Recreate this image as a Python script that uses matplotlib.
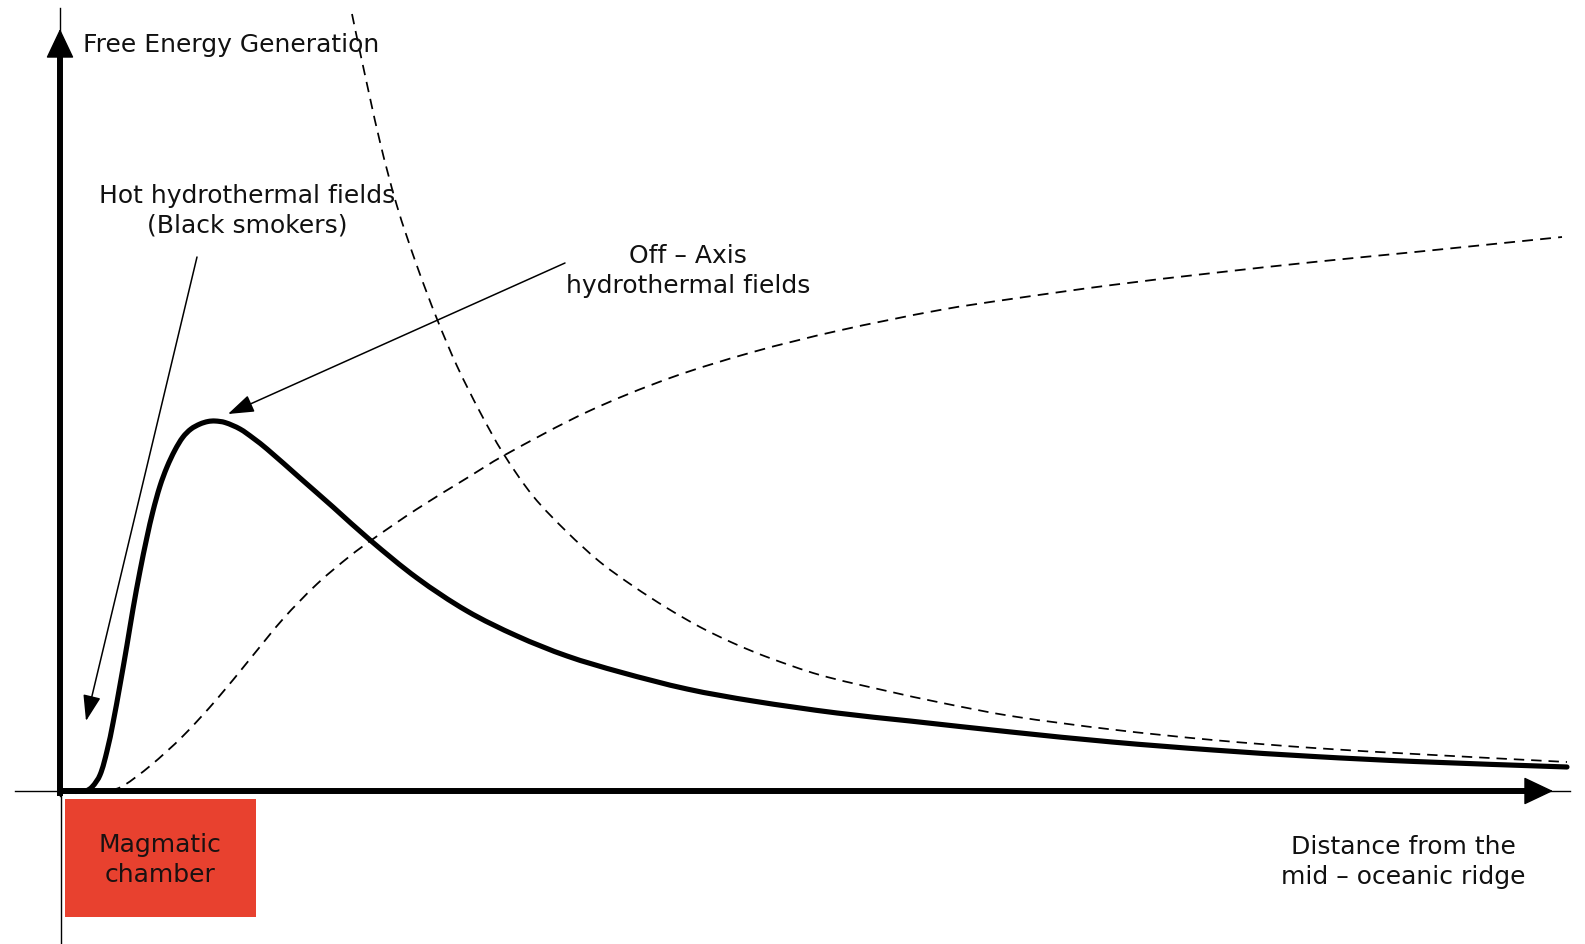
import sys
import numpy as np
import matplotlib
matplotlib.use("Agg")
import matplotlib.pyplot as plt
from matplotlib.path import Path
from matplotlib.patches import PathPatch, Rectangle

# free energy generation (solid line), distance from ridge in arbitrary units
solid_dist = [0, 25, 32, 40, 47, 53, 60, 67, 73, 80, 87, 93, 100, 107, 115,
              123, 131, 140, 148, 155, 165, 180, 193, 207, 240, 273, 310, 357,
              407, 457, 507, 560, 627, 693, 777, 850, 951, 1052, 1153, 1254,
              1355, 1507]
solid_energy = [0, 0, 4, 16, 40, 68, 106, 146, 182, 220, 254, 280, 305, 324,
                341, 354, 362, 367, 369.5, 370, 368.5, 362, 353, 342, 313, 284,
                251, 213, 180, 155, 135, 119, 102, 90, 78, 70, 59, 49, 41,
                34.5, 29.5, 24]

# decreasing dashed curve
dec_dist = [292, 300, 320, 337, 357, 377, 397, 420, 443, 473, 507, 540, 573,
            607, 640, 673, 707, 760, 827, 880, 951, 1052, 1153, 1254, 1355,
            1507]
dec_energy = [777, 739, 649, 585, 525, 472, 425, 379, 338, 295, 259, 229, 205,
              183, 164, 148, 134, 116, 100, 88.5, 75, 61.5, 51, 43, 37, 29]

# increasing dashed curve
inc_dist = [50, 63, 90, 123, 157, 190, 223, 257, 290, 313, 357, 407, 443, 527,
            610, 693, 777, 880, 951, 1052, 1153, 1254, 1355, 1502]
inc_energy = [0, 5, 25, 55, 92, 132, 172, 207, 235, 252, 282, 313, 335, 379,
              413, 439, 460, 481, 492, 506, 518, 529, 539, 554]

y_label = "Free Energy Generation"
x_label = "Distance from the\nmid \u2013 oceanic ridge"
hot_label = "Hot hydrothermal fields\n(Black smokers)"
off_label = "Off \u2013 Axis\nhydrothermal fields"
chamber_label = "Magmatic\nchamber"


def smooth_path(xs, ys):
    # cubic hermite through the points (chord length tangents) as bezier path
    pts = np.column_stack([xs, ys]).astype(float)
    seg = np.hypot(*np.diff(pts, axis=0).T)
    t = np.concatenate([[0], np.cumsum(seg)])
    tang = np.zeros_like(pts)
    tang[1:-1] = (pts[2:] - pts[:-2]) / (t[2:] - t[:-2])[:, None]
    tang[0] = (pts[1] - pts[0]) / seg[0]
    tang[-1] = (pts[-1] - pts[-2]) / seg[-1]
    verts = [pts[0]]
    codes = [Path.MOVETO]
    for i in range(len(pts) - 1):
        h = seg[i] / 3
        verts += [pts[i] + tang[i] * h, pts[i + 1] - tang[i + 1] * h, pts[i + 1]]
        codes += [Path.CURVE4] * 3
    return Path(verts, codes)


def arrow(ax, tip, tail, length, width, lw=1.0):
    style = "-|>,head_length=%s,head_width=%s" % (length, width)
    ax.annotate("", xy=tip, xytext=tail,
                arrowprops=dict(arrowstyle=style, color="black", lw=lw,
                                shrinkA=0, shrinkB=0, mutation_scale=10))


def main() -> int:
    plt.rcParams.update({"font.family": "DejaVu Sans", "font.size": 18})
    fig = plt.figure(figsize=(15.85, 9.45), dpi=100)
    ax = fig.add_axes([0, 0, 1, 1])
    ax.set_xlim(-60, 1525)
    ax.set_ylim(-153, 792)
    ax.axis("off")

    # curves
    ax.add_patch(PathPatch(smooth_path(solid_dist, solid_energy), fill=False,
                           lw=3.7, color="black", capstyle="round"))
    ax.add_patch(PathPatch(smooth_path(dec_dist, dec_energy), fill=False,
                           lw=1.25, color="black", linestyle=(0, (6, 4))))
    ax.add_patch(PathPatch(smooth_path(inc_dist, inc_energy), fill=False,
                           lw=1.3, color="black", linestyle=(0, (6, 4))))

    # axes drawn by hand
    ax.plot([-45, 1510], [0, 0], color="black", lw=1)
    ax.plot([-2, 1470], [0, 0], color="black", lw=4.3, solid_capstyle="butt")
    arrow(ax, (1493, 0), (1450, 0), 1.9, 0.9)
    ax.plot([1, 1], [-153, 0], color="black", lw=1)
    ax.plot([0, 0], [783, -5], color="black", lw=1)
    ax.plot([0, 0], [-5, 740], color="black", lw=4.3, solid_capstyle="butt")
    arrow(ax, (0, 762), (0, 720), 1.9, 0.9)

    # magmatic chamber
    ax.add_patch(Rectangle((5, -126), 191, 118, facecolor="#E8412F",
                           edgecolor="none", zorder=3))
    ax.text(100, -68, chamber_label, ha="center", va="center",
            multialignment="center", linespacing=1.35, color="#1a1111",
            zorder=4)

    # labels
    ax.text(23, 747, y_label, ha="left", va="center", color="#111111")
    ax.text(1343, -70, x_label, ha="center", va="center",
            multialignment="center", linespacing=1.3, color="#111111")
    ax.text(187, 581, hot_label, ha="center", va="center",
            multialignment="center", linespacing=1.3, color="#111111")
    ax.text(628, 521, off_label, ha="center", va="center",
            multialignment="center", linespacing=1.3, color="#111111")

    # pointers
    arrow(ax, (26, 70), (137, 534), 1.6, 0.55, lw=1.1)
    arrow(ax, (168, 377), (505, 528), 1.6, 0.55, lw=1.1)

    fig.savefig("out.png", dpi=100)
    return 0


if __name__ == "__main__":
    sys.exit(main())
